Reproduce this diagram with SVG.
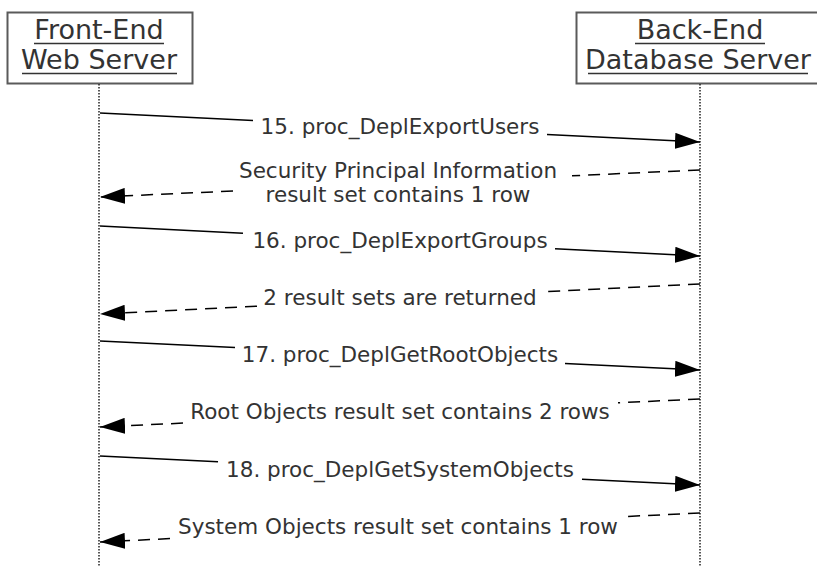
<svg xmlns="http://www.w3.org/2000/svg" width="817" height="567" viewBox="0 0 817 567">
<style>
.box{fill:#fff;stroke:#5a5a5a;stroke-width:2}
.hdr{font-family:"DejaVu Sans",Verdana,sans-serif;font-size:27px;fill:#333;text-anchor:middle}
.ul{stroke:#333;stroke-width:1.5}
.life{stroke:#222;stroke-width:1.5;stroke-dasharray:1.5 1.5}
.msg{stroke:#000;stroke-width:1.5;fill:none}
.ret{stroke:#000;stroke-width:1.5;fill:none;stroke-dasharray:12 8}
.lbl{font-family:"DejaVu Sans",Verdana,sans-serif;font-size:21.5px;fill:#333;text-anchor:middle}
</style>
<defs>
<marker id="ah" markerUnits="userSpaceOnUse" markerWidth="25" markerHeight="16" refX="25" refY="8" orient="auto" viewBox="0 0 25 16">
<path d="M0,0 L25,8 L0,16 Z" fill="#000"/>
</marker>
</defs>
<rect width="817" height="567" fill="#fff"/>
<g id="frontend">
<rect class="box" x="7.5" y="12.5" width="185" height="71"/>
<text class="hdr" x="99" y="39">Front-End</text>
<text class="hdr" x="99" y="69">Web Server</text>
<line class="ul" x1="34" y1="43.5" x2="164" y2="43.5"/>
<line class="ul" x1="22" y1="73.5" x2="177" y2="73.5"/>
<line class="life" x1="99" y1="84" x2="99" y2="567"/>
</g>
<g id="backend">
<rect class="box" x="576.5" y="12.5" width="248" height="71"/>
<text class="hdr" x="700" y="39">Back-End</text>
<text class="hdr" x="698" y="69">Database Server</text>
<line class="ul" x1="635" y1="43.5" x2="765" y2="43.5"/>
<line class="ul" x1="588" y1="73.5" x2="808" y2="73.5"/>
<line class="life" x1="700" y1="84" x2="700" y2="567"/>
</g>
<g id="connectors">
<g id="m15">
<line class="msg" x1="100" y1="113" x2="253" y2="120.4"/>
<line class="msg" x1="547" y1="134.6" x2="700" y2="142" marker-end="url(#ah)"/>
<text class="lbl" x="400" y="134">15. proc_DeplExportUsers</text>
</g>
<g id="r15">
<line class="ret" x1="700" y1="170" x2="572" y2="175.8"/>
<line class="ret" x1="233" y1="191" x2="100" y2="197" marker-end="url(#ah)"/>
<text class="lbl" x="398" y="178">Security Principal Information</text>
<text class="lbl" x="398" y="202">result set contains 1 row</text>
</g>
<g id="m16">
<line class="msg" x1="100" y1="226" x2="243" y2="233.2"/>
<line class="msg" x1="555" y1="248.8" x2="700" y2="256" marker-end="url(#ah)"/>
<text class="lbl" x="400" y="248">16. proc_DeplExportGroups</text>
</g>
<g id="r16">
<line class="ret" x1="700" y1="284" x2="548" y2="291.6"/>
<line class="ret" x1="257" y1="306.2" x2="100" y2="314" marker-end="url(#ah)"/>
<text class="lbl" x="400" y="305">2 result sets are returned</text>
</g>
<g id="m17">
<line class="msg" x1="100" y1="341" x2="235" y2="347.5"/>
<line class="msg" x1="565" y1="363.5" x2="700" y2="370" marker-end="url(#ah)"/>
<text class="lbl" x="400" y="362">17. proc_DeplGetRootObjects</text>
</g>
<g id="r17">
<line class="ret" x1="700" y1="399" x2="618" y2="402.8"/>
<line class="ret" x1="183" y1="423.1" x2="100" y2="427" marker-end="url(#ah)"/>
<text class="lbl" x="400" y="419">Root Objects result set contains 2 rows</text>
</g>
<g id="m18">
<line class="msg" x1="100" y1="456" x2="218" y2="461.7"/>
<line class="msg" x1="582" y1="479.3" x2="700" y2="485" marker-end="url(#ah)"/>
<text class="lbl" x="400" y="477">18. proc_DeplGetSystemObjects</text>
</g>
<g id="r18">
<line class="ret" x1="700" y1="513" x2="627" y2="516.5"/>
<line class="ret" x1="170" y1="538.6" x2="100" y2="542" marker-end="url(#ah)"/>
<text class="lbl" x="398" y="534">System Objects result set contains 1 row</text>
</g>
</g>
</svg>
